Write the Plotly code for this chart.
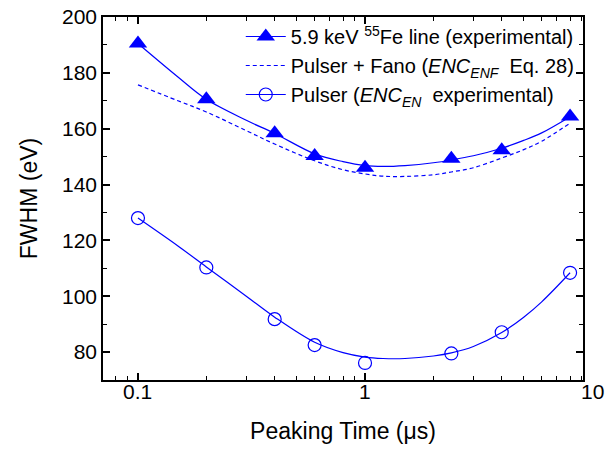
import math
import plotly.graph_objects as go

# ---- data ----
peaking_time = [0.1, 0.2, 0.4, 0.6, 1.0, 2.4, 4.0, 8.0]
fe_fwhm = [190.5, 170.5, 158.4, 150.2, 146.0, 149.2, 152.3, 164.4]
pulser_fwhm = [128.0, 110.3, 91.8, 82.5, 76.1, 79.5, 87.1, 108.4]

fit_time = [0.1, 0.15, 0.2, 0.3, 0.4, 0.6, 0.8, 1.0, 1.2, 1.5, 2.0, 2.4, 3.0, 4.0, 5.0, 6.0, 8.0]
fe_fit = [190.5, 178.5, 170.5, 163.0, 158.3, 151.0, 148.2, 146.8, 146.5, 146.8, 147.8, 148.8, 150.3, 153.0, 155.8, 158.5, 164.3]
fano_fit = [175.7, 170.0, 166.0, 159.3, 154.5, 148.5, 145.3, 143.8, 143.0, 142.9, 143.5, 144.5, 146.0, 149.5, 152.5, 155.5, 162.0]
pulser_fit = [128.0, 118.0, 110.5, 100.0, 92.5, 83.5, 79.8, 78.2, 77.7, 77.7, 78.6, 79.7, 82.0, 87.0, 92.5, 98.0, 108.4]

names = ["5.9 keV <sup>55</sup>Fe line (experimental)",
         "Pulser + Fano (<i>ENC<sub>ENF</sub></i>  Eq. 28)",
         "Pulser (<i>ENC<sub>EN</sub></i>  experimental)"]
x_tick_values = [0.1, 1, 10]
x_tick_labels = ["0.1", "1", "10"]

BLUE = "#0000FF"
INK = "#000000"
FONT = "Liberation Sans, Arial, sans-serif"
xr = [-1.154, 0.960]
yr = [70, 200]

fig = go.Figure()
# fit curves
fig.add_trace(go.Scatter(x=fit_time, y=fe_fit, mode="lines", line=dict(color=BLUE, width=1.2, shape="spline"), showlegend=False))
fig.add_trace(go.Scatter(x=fit_time, y=fano_fit, mode="lines", line=dict(color=BLUE, width=1.2, dash="4px,3px", shape="spline"), showlegend=False))
fig.add_trace(go.Scatter(x=fit_time, y=pulser_fit, mode="lines", line=dict(color=BLUE, width=1.2, shape="spline"), showlegend=False))
# data points
fig.add_trace(go.Scatter(x=peaking_time, y=fe_fwhm, mode="markers",
                         marker=dict(symbol="triangle-up", size=16, color=BLUE, line=dict(width=0)), showlegend=False))
fig.add_trace(go.Scatter(x=peaking_time, y=pulser_fwhm, mode="markers",
                         marker=dict(symbol="circle-open", size=13, color=BLUE, line=dict(width=1.2, color=BLUE)), showlegend=False))
# legend entries
fig.add_trace(go.Scatter(x=[None], y=[None], mode="lines+markers", name=names[0], legendgroup="a",
                         line=dict(color=BLUE, width=1.2),
                         marker=dict(symbol="triangle-up", size=16, color=BLUE)))
fig.add_trace(go.Scatter(x=[None], y=[None], mode="lines", name=names[1], legendgroup="b",
                         line=dict(color=BLUE, width=1.2, dash="4px,3px")))
fig.add_trace(go.Scatter(x=[None], y=[None], mode="lines+markers", name=names[2], legendgroup="c",
                         line=dict(color=BLUE, width=1.2),
                         marker=dict(symbol="circle-open", size=13, color=BLUE, line=dict(width=1.2, color=BLUE))))
# empty trace on overlay axes (used only to draw extra tick marks on the bottom/left)
fig.add_trace(go.Scatter(x=[None], y=[None], xaxis="x2", yaxis="y2", showlegend=False, hoverinfo="skip"))

# x tick labels (the "10" lies just past the axis end, as in the reference)
for v, t in zip(x_tick_values, x_tick_labels):
    fig.add_annotation(text=t, xref="paper", yref="paper",
                       x=(math.log10(v) - xr[0]) / (xr[1] - xr[0]), y=0, xanchor="center", yanchor="top",
                       yshift=2, showarrow=False, font=dict(family=FONT, size=21, color="black"))

tick_common = dict(ticks="inside", ticklen=7, tickwidth=1.5, tickcolor=INK, layer="above traces",
                   showline=True, linecolor=INK, linewidth=1.5, mirror="ticks",
                   showgrid=False, zeroline=False, automargin=False)
x_minor = dict(dtick="D1", ticks="inside", ticklen=4, tickwidth=1.2, tickcolor=INK, showgrid=False)
y_minor = dict(dtick=10, tick0=70, ticks="inside", ticklen=4, tickwidth=1.2, tickcolor=INK, showgrid=False)

# page body has an 8px margin: size the figure to fit the 616x449 window
fig.update_layout(
    width=608, height=441,
    margin=dict(l=95, r=33, t=9, b=69),
    paper_bgcolor="white", plot_bgcolor="white",
    font=dict(family=FONT, color="black"),
    legend=dict(x=0.287, y=1.0, xanchor="left", yanchor="top", bgcolor="rgba(0,0,0,0)",
                font=dict(family=FONT, size=20, color="black"), tracegroupgap=0,
                itemwidth=40),
    xaxis=dict(type="log", range=xr, dtick=1, showticklabels=False, minor=x_minor, **tick_common,
               title=dict(text="Peaking Time (μs)", font=dict(family=FONT, size=23, color="black"), standoff=42)),
    yaxis=dict(range=yr, tick0=80, dtick=20, ticklabeloverflow="allow", minor=y_minor, **tick_common,
               tickfont=dict(family=FONT, size=21, color="black"),
               title=dict(text="FWHM (eV)", font=dict(family=FONT, size=23, color="black"), standoff=18)),
    xaxis2=dict(type="log", range=xr, dtick=1, overlaying="x", side="top", anchor="y2",
                showticklabels=False, minor=x_minor, **tick_common),
    yaxis2=dict(range=yr, tick0=80, dtick=20, overlaying="y", side="right", anchor="x2",
                showticklabels=False, minor=y_minor, **tick_common),
)

fig.write_html("out.html")
